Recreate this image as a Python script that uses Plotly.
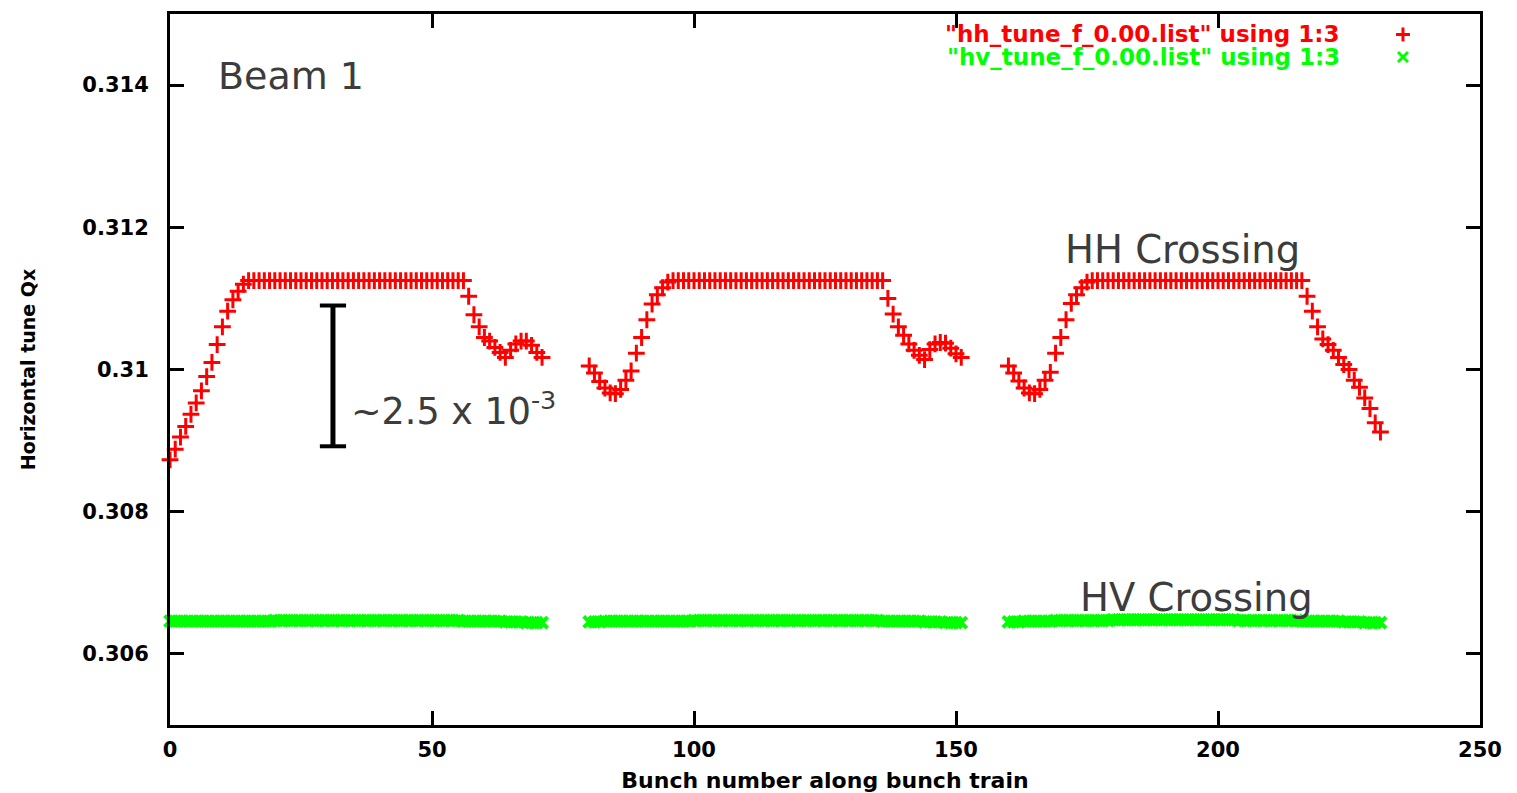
import plotly.graph_objects as go

# ---------------- data ----------------
train1_bunches = list(range(0, 72))
train2_bunches = list(range(80, 152))
train3_bunches = list(range(160, 232))

hh_train1 = [
    0.30873, 0.30888, 0.30905, 0.30920, 0.30937, 0.30953, 0.30970, 0.30990, 0.31010, 0.31035, 0.31060, 0.31082,
    0.31098, 0.31110, 0.31120, 0.31125, 0.31125, 0.31125, 0.31125, 0.31125, 0.31125, 0.31125, 0.31125, 0.31125,
    0.31125, 0.31125, 0.31125, 0.31125, 0.31125, 0.31125, 0.31125, 0.31125, 0.31125, 0.31125, 0.31125, 0.31125,
    0.31125, 0.31125, 0.31125, 0.31125, 0.31125, 0.31125, 0.31125, 0.31125, 0.31125, 0.31125, 0.31125, 0.31125,
    0.31125, 0.31125, 0.31125, 0.31125, 0.31125, 0.31125, 0.31125, 0.31125, 0.31125, 0.31103, 0.31077, 0.31060,
    0.31045, 0.31040, 0.31031, 0.31024, 0.31017, 0.31027, 0.31036, 0.31040, 0.31040, 0.31034, 0.31024, 0.31017,
]
hh_train2 = [
    0.31005, 0.30995, 0.30983, 0.30974, 0.30967, 0.30966, 0.30972, 0.30985, 0.30998, 0.31023, 0.31045, 0.31070,
    0.31092, 0.31105, 0.31115, 0.31123, 0.31125, 0.31125, 0.31125, 0.31125, 0.31125, 0.31125, 0.31125, 0.31125,
    0.31125, 0.31125, 0.31125, 0.31125, 0.31125, 0.31125, 0.31125, 0.31125, 0.31125, 0.31125, 0.31125, 0.31125,
    0.31125, 0.31125, 0.31125, 0.31125, 0.31125, 0.31125, 0.31125, 0.31125, 0.31125, 0.31125, 0.31125, 0.31125,
    0.31125, 0.31125, 0.31125, 0.31125, 0.31125, 0.31125, 0.31125, 0.31125, 0.31125, 0.31100, 0.31078, 0.31060,
    0.31048, 0.31036, 0.31027, 0.31020, 0.31014, 0.31028, 0.31036, 0.31038, 0.31037, 0.31030, 0.31022, 0.31017,
]
hh_train3 = [
    0.31005, 0.30995, 0.30984, 0.30974, 0.30967, 0.30966, 0.30972, 0.30985, 0.30996, 0.31023, 0.31045, 0.31070,
    0.31093, 0.31105, 0.31115, 0.31123, 0.31125, 0.31125, 0.31125, 0.31125, 0.31125, 0.31125, 0.31125, 0.31125,
    0.31125, 0.31125, 0.31125, 0.31125, 0.31125, 0.31125, 0.31125, 0.31125, 0.31125, 0.31125, 0.31125, 0.31125,
    0.31125, 0.31125, 0.31125, 0.31125, 0.31125, 0.31125, 0.31125, 0.31125, 0.31125, 0.31125, 0.31125, 0.31125,
    0.31125, 0.31125, 0.31125, 0.31125, 0.31125, 0.31125, 0.31125, 0.31125, 0.31125, 0.31103, 0.31082, 0.31060,
    0.31043, 0.31035, 0.31027, 0.31017, 0.31007, 0.31000, 0.30985, 0.30975, 0.30960, 0.30945, 0.30925, 0.30912,
]

hv_train1 = [
    0.30646, 0.30646, 0.30646, 0.30646, 0.30646, 0.30646, 0.30646, 0.30646, 0.30646, 0.30646, 0.30646, 0.30646,
    0.30646, 0.30646, 0.30646, 0.30646, 0.30646, 0.30646, 0.30646, 0.30646, 0.30647, 0.30647, 0.30647, 0.30647,
    0.30647, 0.30647, 0.30647, 0.30647, 0.30647, 0.30647, 0.30647, 0.30647, 0.30647, 0.30647, 0.30647, 0.30647,
    0.30647, 0.30647, 0.30647, 0.30647, 0.30647, 0.30647, 0.30647, 0.30647, 0.30647, 0.30647, 0.30647, 0.30647,
    0.30647, 0.30647, 0.30647, 0.30647, 0.30647, 0.30647, 0.30647, 0.30647, 0.30646, 0.30646, 0.30646, 0.30646,
    0.30646, 0.30646, 0.30646, 0.30646, 0.30645, 0.30645, 0.30645, 0.30645, 0.30644, 0.30644, 0.30644, 0.30644,
]
hv_train2 = [
    0.30645, 0.30645, 0.30645, 0.30646, 0.30646, 0.30646, 0.30646, 0.30646, 0.30646, 0.30646, 0.30646, 0.30646,
    0.30646, 0.30646, 0.30646, 0.30646, 0.30646, 0.30646, 0.30646, 0.30646, 0.30647, 0.30647, 0.30647, 0.30647,
    0.30647, 0.30647, 0.30647, 0.30647, 0.30647, 0.30647, 0.30647, 0.30647, 0.30647, 0.30647, 0.30647, 0.30647,
    0.30647, 0.30647, 0.30647, 0.30647, 0.30647, 0.30647, 0.30647, 0.30647, 0.30647, 0.30647, 0.30647, 0.30647,
    0.30647, 0.30647, 0.30647, 0.30647, 0.30647, 0.30647, 0.30647, 0.30647, 0.30646, 0.30646, 0.30646, 0.30646,
    0.30646, 0.30646, 0.30646, 0.30646, 0.30645, 0.30645, 0.30645, 0.30645, 0.30644, 0.30644, 0.30644, 0.30644,
]
hv_train3 = [
    0.30645, 0.30645, 0.30645, 0.30646, 0.30646, 0.30646, 0.30646, 0.30646, 0.30646, 0.30647, 0.30647, 0.30647,
    0.30647, 0.30647, 0.30647, 0.30647, 0.30647, 0.30647, 0.30647, 0.30647, 0.30648, 0.30648, 0.30648, 0.30648,
    0.30648, 0.30648, 0.30648, 0.30648, 0.30648, 0.30648, 0.30648, 0.30648, 0.30648, 0.30648, 0.30648, 0.30648,
    0.30648, 0.30648, 0.30648, 0.30648, 0.30648, 0.30648, 0.30648, 0.30648, 0.30647, 0.30647, 0.30647, 0.30647,
    0.30647, 0.30647, 0.30647, 0.30647, 0.30647, 0.30647, 0.30647, 0.30647, 0.30646, 0.30646, 0.30646, 0.30646,
    0.30646, 0.30646, 0.30646, 0.30646, 0.30645, 0.30645, 0.30645, 0.30645, 0.30644, 0.30644, 0.30644, 0.30644,
]

x_ticks = [0, 50, 100, 150, 200, 250]
y_ticks = [0.306, 0.308, 0.310, 0.312, 0.314]
y_tick_labels = ["0.306", "0.308", "0.31", "0.312", "0.314"]

hh_name = '"hh_tune_f_0.00.list" using 1:3'
hv_name = '"hv_tune_f_0.00.list" using 1:3'

# scale bar (in data units)
scale_bar_x = 31.1
scale_bar_cap = 2.5
scale_bar_y0 = 0.30892
scale_bar_y1 = 0.31090

# ---------------- figure ----------------
RED = "#ff0000"
GREEN = "#00ff00"
TXT = "#3c3c3c"
FONT = "DejaVu Sans"

bunches = train1_bunches + train2_bunches + train3_bunches
hh = hh_train1 + hh_train2 + hh_train3
hv = hv_train1 + hv_train2 + hv_train3

fig = go.Figure()
fig.add_trace(go.Scatter(
    x=bunches, y=hv, mode="markers", name=hv_name, showlegend=False, cliponaxis=False,
    marker=dict(symbol="x-thin", size=11, color=GREEN, line=dict(color=GREEN, width=4)),
))
fig.add_trace(go.Scatter(
    x=bunches, y=hh, mode="markers", name=hh_name, showlegend=False, cliponaxis=False,
    marker=dict(symbol="cross-thin", size=12, color=RED, line=dict(color=RED, width=3)),
))

shapes = [
    dict(type="line", xref="x", yref="y", x0=scale_bar_x, x1=scale_bar_x, y0=scale_bar_y0, y1=scale_bar_y1,
         line=dict(color="black", width=5)),
    dict(type="line", xref="x", yref="y", x0=scale_bar_x - scale_bar_cap, x1=scale_bar_x + scale_bar_cap,
         y0=scale_bar_y0, y1=scale_bar_y0, line=dict(color="black", width=4)),
    dict(type="line", xref="x", yref="y", x0=scale_bar_x - scale_bar_cap, x1=scale_bar_x + scale_bar_cap,
         y0=scale_bar_y1, y1=scale_bar_y1, line=dict(color="black", width=4)),
    # legend keys
    dict(type="line", xref="paper", yref="paper", xsizemode="pixel", ysizemode="pixel",
         xanchor=0.9412, yanchor=0.9712, x0=-7, x1=7, y0=0, y1=0, line=dict(color=RED, width=3)),
    dict(type="line", xref="paper", yref="paper", xsizemode="pixel", ysizemode="pixel",
         xanchor=0.9412, yanchor=0.9712, x0=0, x1=0, y0=-7, y1=7, line=dict(color=RED, width=3)),
    dict(type="line", xref="paper", yref="paper", xsizemode="pixel", ysizemode="pixel",
         xanchor=0.9412, yanchor=0.9395, x0=-5, x1=5, y0=-5, y1=5, line=dict(color=GREEN, width=3)),
    dict(type="line", xref="paper", yref="paper", xsizemode="pixel", ysizemode="pixel",
         xanchor=0.9412, yanchor=0.9395, x0=-5, x1=5, y0=5, y1=-5, line=dict(color=GREEN, width=3)),
]

big = dict(family=FONT, size=38, color=TXT)
annotations = [
    dict(text="Beam 1", x=8.7, y=0.31413, xref="x", yref="y", xanchor="left", yanchor="middle",
         showarrow=False, font=big),
    dict(text="HH Crossing", x=170.4, y=0.31169, xref="x", yref="y", xanchor="left", yanchor="middle",
         showarrow=False, font=dict(family=FONT, size=38.5, color=TXT)),
    dict(text="HV Crossing", x=173.3, y=0.30680, xref="x", yref="y", xanchor="left", yanchor="middle",
         showarrow=False, font=dict(family=FONT, size=38.5, color=TXT)),
    dict(text="~2.5 x 10<sup>-3</sup>", x=34.2, y=0.30945, xref="x", yref="y", xanchor="left",
         yanchor="middle", showarrow=False, font=dict(family=FONT, size=36.5, color=TXT)),
    dict(text=hh_name, x=0.8947, y=0.9719, xref="paper", yref="paper", xanchor="right", yanchor="middle",
         showarrow=False, font=dict(family=FONT, size=23, color=RED, weight="bold")),
    dict(text=hv_name, x=0.8947, y=0.9395, xref="paper", yref="paper", xanchor="right", yanchor="middle",
         showarrow=False, font=dict(family=FONT, size=23, color=GREEN, weight="bold")),
]

axis_common = dict(
    showline=True, linewidth=3, linecolor="black", mirror="ticks",
    ticks="inside", ticklen=14, tickwidth=3, tickcolor="black",
    showgrid=False, zeroline=False,
    tickfont=dict(family=FONT, size=21, color="black", weight="bold"),
)

fig.update_layout(
    width=1517, height=793,
    margin=dict(l=170, r=37, t=14, b=68, autoexpand=False),
    paper_bgcolor="white", plot_bgcolor="white",
    font=dict(family=FONT),
    xaxis=dict(range=[0, 250], tickvals=x_ticks, ticklabelstandoff=4,
               title=dict(text="Bunch number along bunch train", standoff=12,
                          font=dict(family=FONT, size=22, color="black", weight="bold")),
               **axis_common),
    yaxis=dict(range=[0.305, 0.315], tickvals=y_ticks, ticktext=y_tick_labels, ticklabelstandoff=14,
               title=dict(text="Horizontal tune Qx", standoff=42,
                          font=dict(family=FONT, size=19, color="black", weight="bold")),
               **axis_common),
    shapes=shapes, annotations=annotations,
)

fig.write_html("out.html")
